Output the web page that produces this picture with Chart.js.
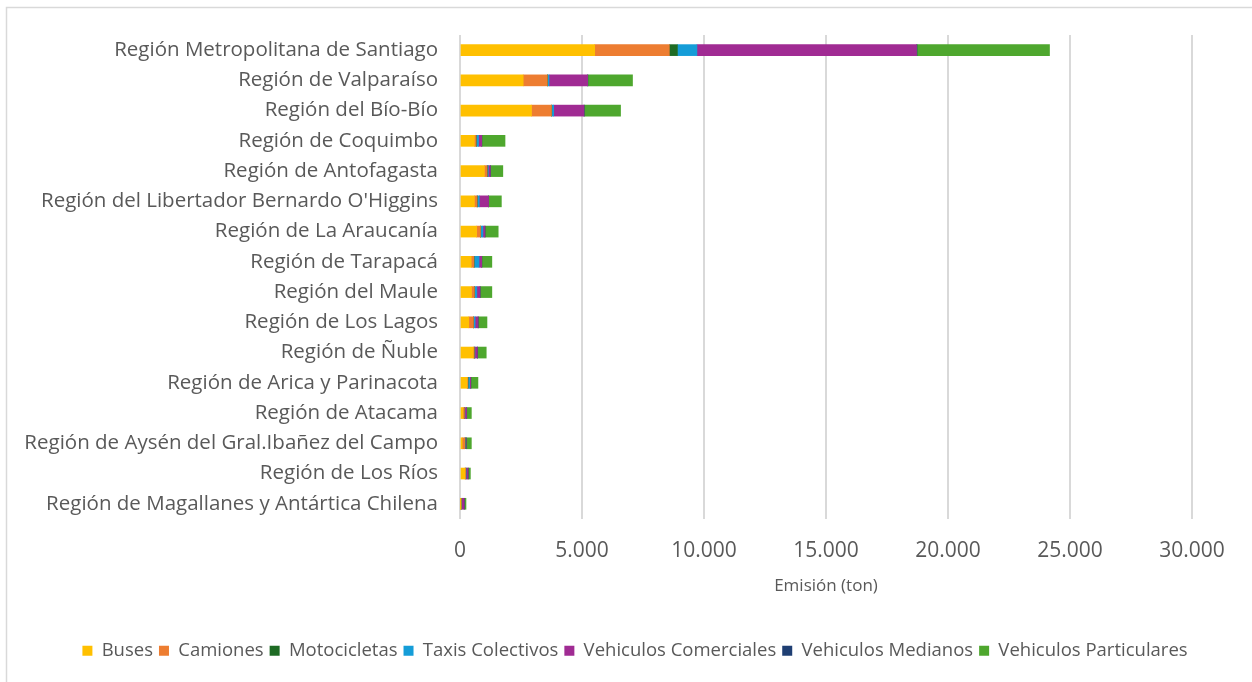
<!DOCTYPE html>
<html>
<head>
<meta charset="utf-8">
<script src="https://cdn.jsdelivr.net/npm/chart.js@4"></script>
<style>
  html, body { margin: 0; padding: 0; background: #fff; }
  #wrap { width: 1252px; height: 682px; }
</style>
</head>
<body>
<div id="wrap"><canvas id="emisionChart" width="1252" height="682"></canvas></div>
<script>
const regiones = [
  'Región Metropolitana de Santiago',
  'Región de Valparaíso',
  'Región del Bío-Bío',
  'Región de Coquimbo',
  'Región de Antofagasta',
  "Región del Libertador Bernardo O'Higgins",
  'Región de La Araucanía',
  'Región de Tarapacá',
  'Región del Maule',
  'Región de Los Lagos',
  'Región de Ñuble',
  'Región de Arica y Parinacota',
  'Región de Atacama',
  'Región de Aysén del Gral.Ibañez del Campo',
  'Región de Los Ríos',
  'Región de Magallanes y Antártica Chilena'
];

// emisión por tipo de vehículo (ton), mismo orden que regiones
const buses         = [5520, 2590, 2930, 590, 1000, 590, 680, 460, 470, 360, 540, 290, 120,  90, 200,  20];
const camiones      = [3060,  990,  820,  70,  110, 110, 160, 110, 120, 190,  40,  30,  60, 110,  30,  20];
const motocicletas  = [ 330,   10,   10,  10,   10,  10,  10,  10,  10,  10,  10,  10,  10,  10,  10,  10];
const taxis         = [ 800,   60,   80,  90,   40,  80,  90, 200,  90,  60,  20,  60,  10,  10,  10,  10];
const comerciales   = [9000, 1580, 1240, 130,   80, 380,  80, 110, 130, 120, 100,  50,  70,  30,  80, 110];
const medianos      = [  20,   10,   10,   5,    5,   5,   5,   5,   5,   5,   5,   5,   5,   5,   5,   5];
const particulares  = [5430, 1830, 1490, 950,  510, 520, 540, 410, 480, 360, 360, 290, 190, 210,  90,  70];

const ejeX = { min: 0, max: 30000, paso: 5000 };

const series = [
  { label: 'Buses',                 data: buses,        color: '#FFC000' },
  { label: 'Camiones',              data: camiones,     color: '#ED7D31' },
  { label: 'Motocicletas',          data: motocicletas, color: '#1E6B24' },
  { label: 'Taxis Colectivos',      data: taxis,        color: '#159DD8' },
  { label: 'Vehiculos Comerciales', data: comerciales,  color: '#A02B93' },
  { label: 'Vehiculos Medianos',    data: medianos,     color: '#1F3F73' },
  { label: 'Vehiculos Particulares',data: particulares, color: '#4EA72E' }
];

const fuente = "'Open Sans', 'Liberation Sans', sans-serif";
const gris = '#595959';

// marco fino alrededor del gráfico
const marco = {
  id: 'marco',
  beforeDraw(chart) {
    const c = chart.ctx;
    c.save();
    c.fillStyle = '#fff';
    c.fillRect(0, 0, chart.width, chart.height);
    c.strokeStyle = '#d9d9d9';
    c.lineWidth = 1.5;
    c.strokeRect(6.5, 7.5, 1260, 700);
    c.restore();
  }
};

new Chart(document.getElementById('emisionChart').getContext('2d'), {
  type: 'bar',
  data: {
    labels: regiones,
    datasets: series.map(s => ({
      label: s.label,
      data: s.data,
      backgroundColor: s.color,
      borderWidth: 0,
      barThickness: 11
    }))
  },
  options: {
    indexAxis: 'y',
    responsive: false,
    animation: false,
    layout: { padding: { left: 18, right: 0, top: 35, bottom: 12 } },
    scales: {
      x: {
        stacked: true,
        min: ejeX.min,
        max: ejeX.max,
        ticks: {
          stepSize: ejeX.paso,
          color: gris,
          font: { family: fuente, size: 21 },
          padding: 20,
          callback: v => v.toString().replace(/\B(?=(\d{3})+(?!\d))/g, '.')
        },
        grid: { color: '#d9d9d9', lineWidth: 2, drawTicks: false },
        border: { display: false },
        title: {
          display: true,
          text: 'Emisión (ton)',
          color: gris,
          font: { family: fuente, size: 17 },
          padding: { top: -8, bottom: 39 }
        }
      },
      y: {
        stacked: true,
        ticks: {
          color: gris,
          font: { family: fuente, size: 20.5 },
          padding: 22
        },
        grid: { display: false, drawTicks: false },
        border: { display: false },
        afterFit(scale) { scale.width = 442; }
      },
      // eje vacío a la derecha: solo reserva margen
      margen: {
        type: 'category',
        labels: regiones,
        position: 'right',
        ticks: { display: false },
        grid: { display: false, drawTicks: false },
        border: { display: false },
        afterFit(scale) { scale.width = 60; }
      }
    },
    plugins: {
      legend: {
        position: 'bottom',
        labels: {
          color: gris,
          font: { family: fuente, size: 18.5 },
          boxWidth: 10,
          boxHeight: 10,
          padding: 6
        }
      },
      tooltip: { enabled: false }
    }
  },
  plugins: [marco]
});
</script>
</body>
</html>
